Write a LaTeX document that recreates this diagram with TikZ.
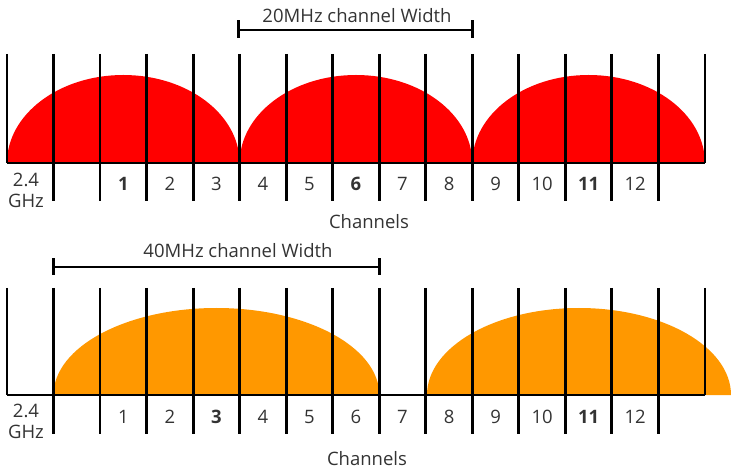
\documentclass[tikz,border=0pt]{standalone}
\usepackage{fontspec}
\setmainfont{Open Sans}
\definecolor{txt}{HTML}{333333}
\definecolor{sigred}{HTML}{FF0000}
\definecolor{sigorange}{HTML}{FF9800}
\begin{document}
\begin{tikzpicture}[x=1pt,y=-1pt,
  grid/.style={line width=2.8pt,black},
  lbl/.style={text=txt,font=\fontsize{18.5}{21}\selectfont,anchor=base,inner sep=0pt},
  bracket/.style={line width=2.8pt,black}]
\useasboundingbox (0,0) rectangle (731,470);

% channel boundary positions for both panels
\foreach \i in {0,...,15} {
  \pgfmathsetmacro\xx{7+46.53*\i}
  \coordinate (tt\i) at (\xx,54);
  \coordinate (tm\i) at (\xx,163);
  \coordinate (tb\i) at (\xx,201);
  \coordinate (bt\i) at (\xx,288);
  \coordinate (bm\i) at (\xx,395);
  \coordinate (bb\i) at (\xx,434);
}

% 20 MHz signal lobes
\fill[sigred] (tm0) arc[start angle=180,end angle=360,x radius=116.3,y radius=88] -- cycle;
\fill[sigred] (tm5) arc[start angle=180,end angle=360,x radius=116.3,y radius=88] -- cycle;
\fill[sigred] (tm10) arc[start angle=180,end angle=360,x radius=116.3,y radius=88] -- cycle;

% 40 MHz signal lobes
\fill[sigorange] (bm1) arc[start angle=180,end angle=360,x radius=162.9,y radius=87] -- cycle;
\coordinate (o2) at (427,395);
\fill[sigorange] (o2) arc[start angle=180,end angle=360,x radius=152,y radius=87] -- cycle;

% baselines
\draw[grid] (tm0) -- (tm15);
\draw[grid] (bm0) -- (bm15);

% vertical channel dividers
\foreach \i in {1,...,14} {
  \draw[grid] (tt\i) -- (tb\i);
  \draw[grid] (bt\i) -- (bb\i);
}
\draw[grid] (tt0) -- (tm0);
\draw[grid] (tt15) -- (tm15);
\draw[grid] (bt0) -- (bm0);
\draw[grid] (bt15) -- (bm15);

% width brackets
\coordinate (w20a) at (238.6,30);
\coordinate (w20b) at (472.3,30);
\draw[bracket] (w20a) -- (w20b);
\draw[bracket] ([yshift=-8pt]w20a) -- ([yshift=10pt]w20a);
\draw[bracket] ([yshift=-8pt]w20b) -- ([yshift=10pt]w20b);
\node[lbl] (t20) at (357,23) {20MHz channel Width};

\coordinate (w40a) at (53.5,267);
\coordinate (w40b) at (379.2,267);
\draw[bracket] (w40a) -- (w40b);
\draw[bracket] ([yshift=-8pt]w40a) -- ([yshift=9pt]w40a);
\draw[bracket] ([yshift=-8pt]w40b) -- ([yshift=9pt]w40b);
\node[lbl] (t40) at (238,258) {40MHz channel Width};

% channel numbers
\foreach \n in {1,...,12} {
  \pgfmathsetmacro\cx{7+46.53*(\n+1.5)}
  \ifnum\n=6 \def\tf{\bfseries}\else\ifnum\n=11 \def\tf{\bfseries}\else\ifnum\n=1 \def\tf{\bfseries}\else\def\tf{}\fi\fi\fi
  \node[lbl] (c\n) at (\cx,191) {\tf\n};
  \ifnum\n=3 \def\bf{\bfseries}\else\ifnum\n=11 \def\bf{\bfseries}\else\def\bf{}\fi\fi
  \node[lbl] (d\n) at (\cx,423) {\bf\n};
}

% band labels
\node[lbl] (g1a) at (26,187) {2.4};
\node[lbl] (g1b) at (26,208) {GHz};
\node[lbl] (g2a) at (26,417) {2.4};
\node[lbl] (g2b) at (26,438) {GHz};

\node[lbl] (ch1) at (369,229) {Channels};
\node[lbl] (ch2) at (367,465) {Channels};
\end{tikzpicture}
\end{document}
